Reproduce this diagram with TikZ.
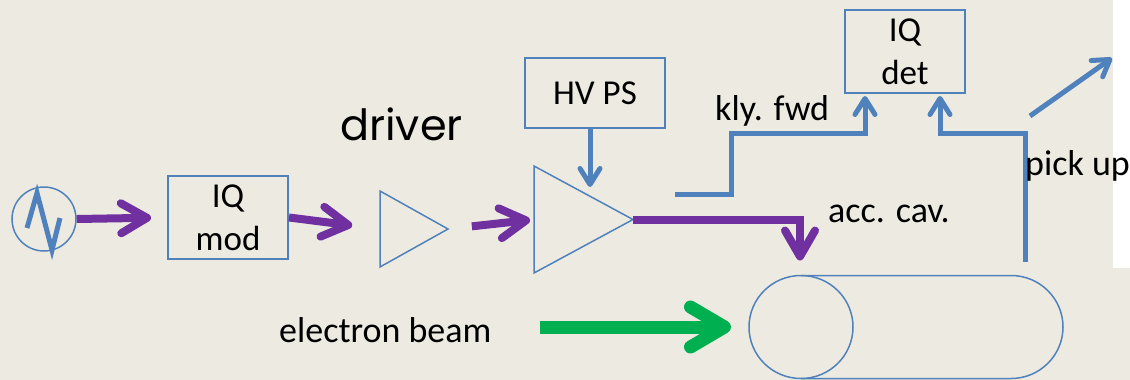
\documentclass[tikz,border=0pt]{standalone}
\usepackage{fontspec}
\setmainfont{Carlito}
\newfontfamily\drvfont{Poppins}
\usetikzlibrary{arrows.meta}
\definecolor{bgcol}{RGB}{237,235,225}
\definecolor{lblue}{RGB}{79,129,189}
\definecolor{rfpurple}{RGB}{112,48,160}
\definecolor{beamgreen}{RGB}{0,176,80}
\tikzset{
  lbl/.style={font=\fontsize{36}{42}\selectfont, inner sep=0pt},
  blk/.style={draw=lblue, line width=2pt, minimum width=120pt, minimum height=83pt,
    align=center, inner sep=0pt, font=\fontsize{35}{43}\selectfont},
  amp/.style={draw=lblue, line width=1.5pt},
  rf/.style={draw=rfpurple, line width=8pt, -{Straight Barb[length=26pt,width=30pt,round]}},
  sig/.style={draw=lblue, line width=5pt, -{Straight Barb[length=16pt,width=20pt,round]}},
  beam/.style={draw=beamgreen, line width=13pt, -{Straight Barb[length=34pt,width=40pt,round]}}
}
\begin{document}
\begin{tikzpicture}[x=1pt, y=-1pt]
    \useasboundingbox (0,0) rectangle (1130,380);
    \fill[bgcol] (0,0) rectangle (1130,380);
    \fill[white] (1113,0) rectangle (1130,268);

    \node[draw=lblue, line width=1.5pt, circle, minimum size=64pt, inner sep=0pt] (osc) at (44,219) {};
    \draw[lblue, line width=5pt] (27,228) -- (37,193) -- (52,250) -- (60,218);
    \node[blk] (iqmod) at (228,217.5) {IQ\\mod};

    \begin{scope}
      \draw[amp] (380,191) -- (380,267) -- (448,229) -- cycle;
      \coordinate (drvin) at (380,229);
      \coordinate (drvout) at (448,229);
      \node[lbl, font=\drvfont\fontsize{43}{50}\selectfont, anchor=base west] (drvlbl) at (340,140) {driver};
    \end{scope}

    \begin{scope}
      \draw[amp] (534,166) -- (534,273) -- (633,219.5) -- cycle;
      \coordinate (klyin) at (534,219.5);
      \coordinate (klyout) at (633,219.5);
      \coordinate (klytop) at (590,196);
      \node[blk, minimum width=140pt, minimum height=70pt] (hvps) at (595,93) {HV PS};
    \end{scope}

    \node[blk] (iqdet) at (905,51.5) {IQ\\det};

    \begin{scope}
      \draw[amp] (801,327) ellipse [x radius=52, y radius=51.5];
      \draw[amp] (801,275.5) -- (1011,275.5) arc[start angle=-90, end angle=90, x radius=52, y radius=51.5] -- (801,378.5);
      \coordinate (cavtop) at (800,275.5);
      \coordinate (cavin) at (749,327);
    \end{scope}

    \draw[rf, shorten >=16pt] (osc.east) -- (iqmod.west);
    \draw[rf, shorten >=28pt] (iqmod.east) -- (drvin);
    \draw[rf, shorten <=24pt, shorten >=4pt] (drvout) -- (klyin);
    \draw[rf, shorten >=15pt] (klyout) -| (cavtop);
    \draw[sig, shorten >=9pt] (hvps.south -| klytop) -- (klytop);

    \coordinate (fwdtap) at (675,194);
    \draw[sig, shorten >=2pt] (fwdtap) -| (731,133) -| ([xshift=-40pt]iqdet.south);
    \coordinate (pickup) at (1025,262);
    \draw[sig, shorten >=2pt] (pickup) -- (1025,133) -| ([xshift=35pt]iqdet.south);
    \coordinate (diaga) at (1030,116);
    \coordinate (diagb) at (1112,58);
    \draw[sig] (diaga) -- (diagb);
    \coordinate (beamsrc) at (540,327);
    \draw[beam, shorten >=18pt] (beamsrc) -- (cavin);

    \node[lbl, anchor=base west] (fwdlbl) at (715,120) {kly. fwd};
    \node[lbl, anchor=base west] (cavlbl) at (828,222) {acc. cav.};
    \node[lbl, anchor=base west] (puplbl) at (1025,175) {pick up};
    \node[lbl, anchor=base west] (beamlbl) at (279,342) {electron beam};
  \end{tikzpicture}
\end{document}
